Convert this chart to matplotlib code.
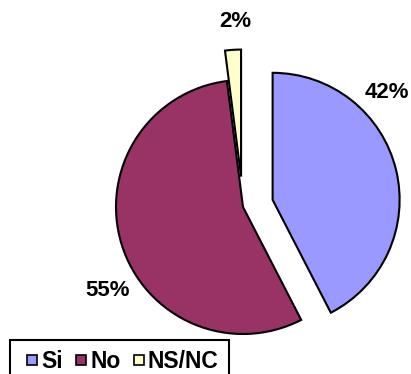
import matplotlib.pyplot as plt
from matplotlib.lines import Line2D

categories = ["Si", "No", "NS/NC"]
values = [42, 55, 2]
colors = ["#9999FF", "#993366", "#FFFFCC"]

plt.rcParams["font.family"] = ["Liberation Sans", "DejaVu Sans"]
plt.rcParams["font.weight"] = "bold"

fig = plt.figure(figsize=(4.11, 3.74), dpi=100)
ax = fig.add_axes([0, 0, 1, 1])

r = 127
# "No" slice stays in place, the other two are pulled out
ax.pie(values, colors=colors, startangle=90, counterclock=False,
       explode=[0.24 * r, 0, 0.24 * r], radius=r, center=(243, 167),
       wedgeprops=dict(edgecolor="black", linewidth=1.5))

# label positions (pixels, y from bottom)
label_pos = [(387, 374 - 92), (108, 374 - 290), (235, 374 - 21)]
for v, (x, y) in zip(values, label_pos):
    ax.text(x, y, f"{v}%", ha="center", va="center", fontsize=16, fontweight="bold")

ax.set_xlim(0, 411)
ax.set_ylim(0, 374)
ax.set_aspect("equal")
ax.axis("off")

handles = [Line2D([], [], linestyle="none", marker="s", markersize=7.5,
                  markerfacecolor=c, markeredgecolor="black", markeredgewidth=1.2)
           for c in colors]
leg = fig.legend(handles, categories, loc="upper left", ncol=3,
                 bbox_to_anchor=(10 / 411, 1 - 340 / 374), borderaxespad=0,
                 prop=dict(size=16.5, weight="bold"),
                 handlelength=1.05, handletextpad=-0.15,
                 columnspacing=0.3, borderpad=0.45, fancybox=False,
                 edgecolor="black", framealpha=1)
leg.get_frame().set_linewidth(1.5)

fig.savefig("out.png", dpi=100)
